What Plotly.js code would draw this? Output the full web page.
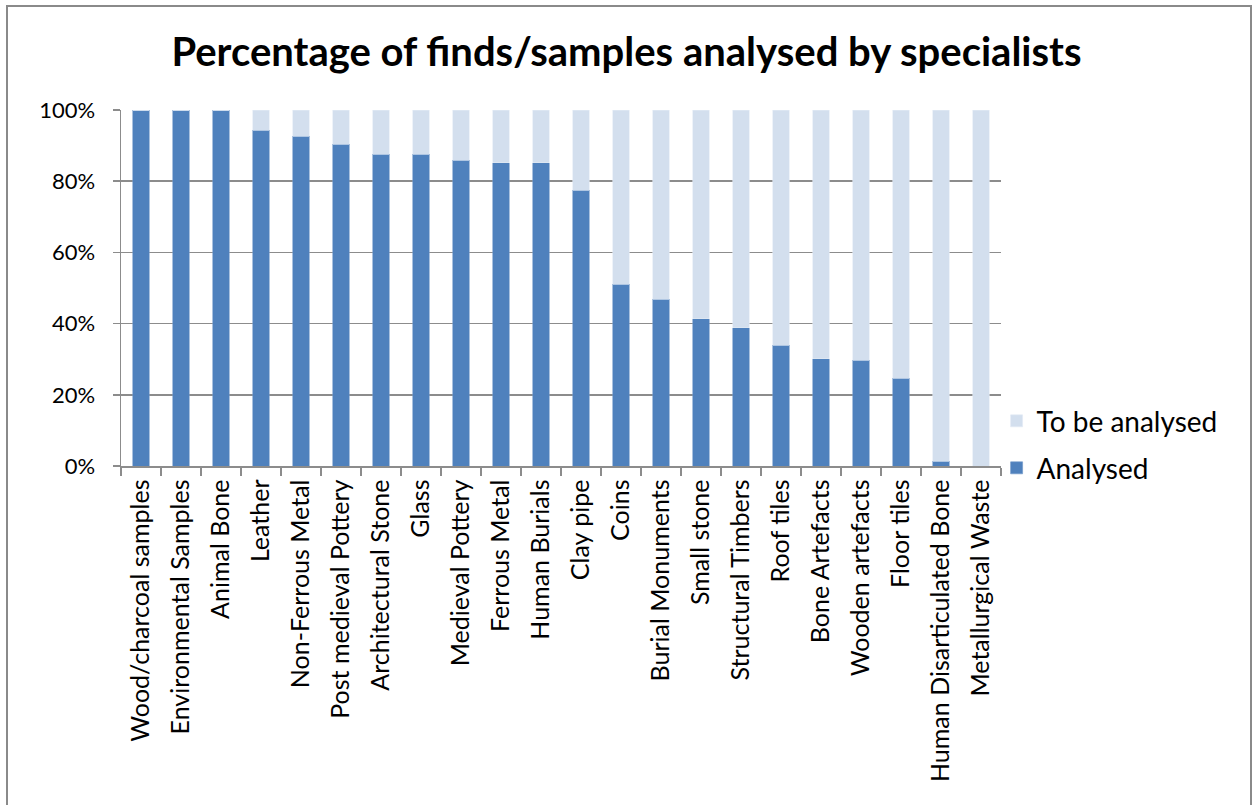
<!DOCTYPE html>
<html>
<head>
<meta charset="utf-8">
<script src="https://cdn.plot.ly/plotly-3.0.1.min.js"></script>
<style>
  html, body { margin: 0; padding: 0; overflow: hidden; background: #fff; }
  #chart { width: 1253px; height: 805px; }
  #frame { position: absolute; left: 6px; top: 5px; width: 1246px; height: 830px; box-sizing: border-box;
           border-top: 2px solid #8a8a8a; border-left: 2px solid #8a8a8a; border-right: 2px solid #8a8a8a;
           pointer-events: none; }
</style>
</head>
<body>
<div id="chart"></div>
<div id="frame"></div>
<script>
const categories = [
  "Wood/charcoal samples", "Environmental Samples", "Animal Bone", "Leather",
  "Non-Ferrous Metal", "Post medieval Pottery", "Architectural Stone", "Glass",
  "Medieval Pottery", "Ferrous Metal", "Human Burials", "Clay pipe", "Coins",
  "Burial Monuments", "Small stone", "Structural Timbers", "Roof tiles",
  "Bone Artefacts", "Wooden artefacts", "Floor tiles", "Human Disarticulated Bone",
  "Metallurgical Waste"
];
const analysed = [100, 100, 100, 94.3, 92.6, 90.4, 87.6, 87.6, 85.9, 85.2, 85.2, 77.5, 51.1,
                  46.9, 41.3, 38.8, 33.9, 30.1, 29.7, 24.7, 1.3, 0];
const toBeAnalysed = [0, 0, 0, 5.7, 7.4, 9.6, 12.4, 12.4, 14.1, 14.8, 14.8, 22.5, 48.9,
                      53.1, 58.7, 61.2, 66.1, 69.9, 70.3, 75.3, 98.7, 100];
const yTickVals = [0, 20, 40, 60, 80, 100];
const yTickText = ["0%", "20%", "40%", "60%", "80%", "100%"];

const FONT = "Lato, 'Open Sans', sans-serif";
const GRID = "#8c8c8c";

const traces = [
  { type: "bar", name: "Analysed", x: categories, y: analysed,
    marker: { color: "#4F81BD", line: { color: "#6f97c9", width: 0.6 } }, legend: "legend2" },
  { type: "bar", name: "To be analysed", x: categories, y: toBeAnalysed,
    marker: { color: "#D3DFEE", line: { color: "#e3ebf5", width: 0.6 } }, legend: "legend" }
];

const layout = {
  width: 1253, height: 805,
  paper_bgcolor: "#fff", plot_bgcolor: "#fff",
  margin: { l: 121, r: 252, t: 110, b: 339 },
  barmode: "stack", bargap: 0.58,
  title: { text: "<b>Percentage of finds/samples analysed by specialists</b>",
           font: { family: FONT, size: 40, color: "#000" }, x: 0.5, xanchor: "center", y: 0.935, yanchor: "middle" },
  xaxis: {
    type: "category", tickangle: -90, tickson: "boundaries",
    ticks: "outside", ticklen: 8, tickcolor: GRID, tickwidth: 1.5,
    showline: true, linecolor: GRID, linewidth: 1.5, showgrid: false,
    tickfont: { family: FONT, size: 25, color: "#000" }, ticklabelstandoff: 2
  },
  yaxis: {
    range: [0, 100], tickvals: yTickVals, ticktext: yTickText,
    ticks: "outside", ticklen: 7, tickcolor: GRID, tickwidth: 1.5,
    showline: true, linecolor: GRID, linewidth: 1.5,
    showgrid: true, gridcolor: GRID, gridwidth: 1.5, zeroline: false,
    tickfont: { family: FONT, size: 22, color: "#000" }, ticklabelstandoff: 13
  },
  legend: { x: 0.995, xanchor: "left", y: 0.126, yanchor: "middle",
            font: { family: FONT, size: 28, color: "#000" }, bgcolor: "rgba(0,0,0,0)" },
  legend2: { x: 0.995, xanchor: "left", y: -0.006, yanchor: "middle",
             font: { family: FONT, size: 28, color: "#000" }, bgcolor: "rgba(0,0,0,0)" },
  showlegend: true
};

Plotly.newPlot("chart", traces, layout, { displayModeBar: false, staticPlot: true });
</script>
</body>
</html>
